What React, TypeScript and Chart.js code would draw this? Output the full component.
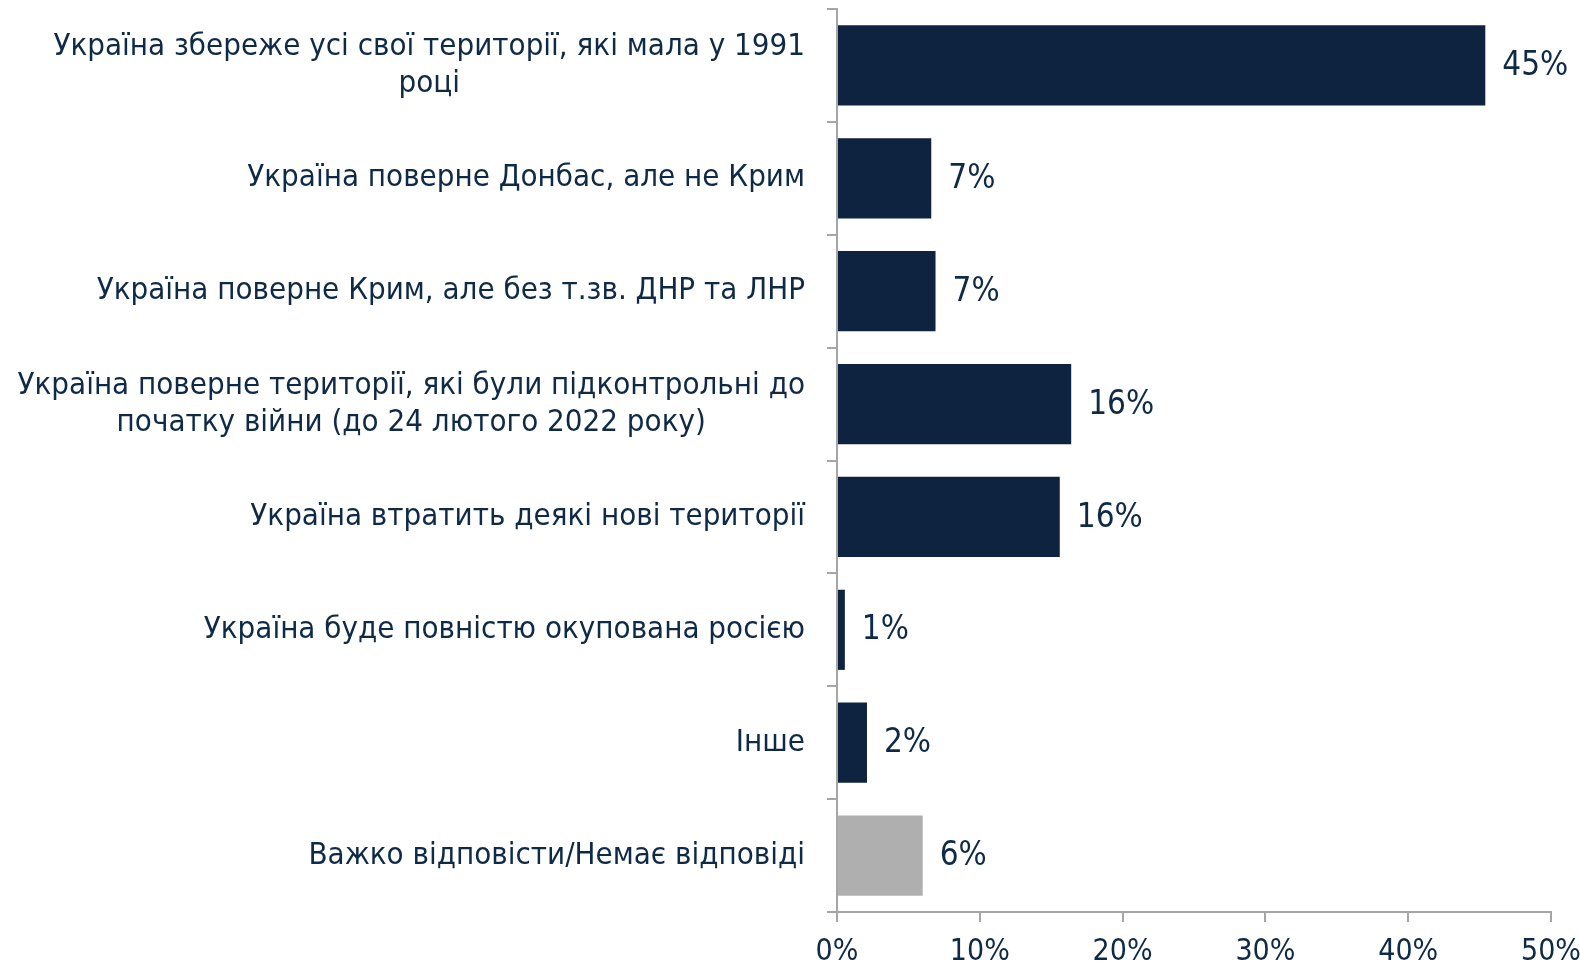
import React, { useEffect, useRef } from "react";
import { Chart, registerables } from "chart.js";

Chart.register(...registerables);

const categories: string[][] = [
  ["Україна збереже усі свої території, які мала у 1991", "році"],
  ["Україна поверне Донбас, але не Крим"],
  ["Україна поверне Крим, але без т.зв. ДНР та ЛНР"],
  ["Україна поверне території, які були підконтрольні до", "початку війни (до 24 лютого 2022 року)"],
  ["Україна втратить деякі нові території"],
  ["Україна буде повністю окупована росією"],
  ["Інше"],
  ["Важко відповісти/Немає відповіді"],
];
const values: number[] = [45.4, 6.6, 6.9, 16.4, 15.6, 0.55, 2.1, 6.0];
const valueLabels: string[] = ["45%", "7%", "7%", "16%", "16%", "1%", "2%", "6%"];
const barColors: string[] = ["#0e2340", "#0e2340", "#0e2340", "#0e2340", "#0e2340", "#0e2340", "#0e2340", "#afafaf"];
const xTicks: number[] = [0, 10, 20, 30, 40, 50];

const FONT = "'DejaVu Sans Condensed', 'DejaVu Sans', sans-serif";
const TEXT = "#0e2a47";
const AXIS = "#a6a6a6";

export default function App() {
  const ref = useRef<HTMLCanvasElement>(null);
  useEffect(() => {
    document.body.style.margin = "0";
    const labelsPlugin = {
      id: "customLabels",
      afterDraw(chart: any) {
        const ctx = chart.ctx;
        const y = chart.scales.y;
        const meta = chart.getDatasetMeta(0);
        ctx.save();
        ctx.fillStyle = TEXT;
        ctx.textBaseline = "middle";
        // category labels
        ctx.font = `31px ${FONT}`;
        const rightX = 805;
        const lh = 37;
        categories.forEach((lines, i) => {
          const cy = y.getPixelForValue(i);
          const w = Math.max(...lines.map((l) => ctx.measureText(l).width));
          const cx = rightX - w / 2;
          ctx.textAlign = "center";
          lines.forEach((l, j) => {
            const ly = cy + (j - (lines.length - 1) / 2) * lh;
            ctx.fillText(l, cx, ly);
          });
        });
        // value labels
        ctx.font = `33px ${FONT}`;
        ctx.textAlign = "left";
        meta.data.forEach((bar: any, i: number) => {
          ctx.fillText(valueLabels[i], bar.x + 17, bar.y + 1);
        });
        ctx.restore();
      },
    };
    const chart = new Chart(ref.current!, {
      type: "bar",
      data: {
        labels: categories.map((c) => c.join(" ")),
        datasets: [
          {
            data: values,
            backgroundColor: barColors,
            barPercentage: 0.71,
            categoryPercentage: 1,
          },
        ],
      },
      options: {
        indexAxis: "y",
        animation: false,
        responsive: false,
        maintainAspectRatio: false,
        layout: { padding: { top: 9, right: 29, left: 0, bottom: 0 } },
        plugins: { legend: { display: false }, tooltip: { enabled: false } },
        scales: {
          x: {
            min: 0,
            max: 50,
            afterBuildTicks(scale: any) {
              scale.ticks = xTicks.map((v) => ({ value: v }));
            },
            afterFit(scale: any) {
              scale.height = 54;
              scale.paddingLeft = 0;
              scale.paddingRight = 0;
            },
            ticks: {
              callback: (v: any) => `${v}%`,
              color: TEXT,
              font: { family: FONT, size: 30 },
              padding: 12,
              maxRotation: 0,
            },
            grid: {
              drawOnChartArea: false,
              drawTicks: true,
              tickLength: 10,
              color: AXIS,
              lineWidth: 2,
            },
            border: { display: true, color: AXIS, width: 2 },
          },
          y: {
            offset: true,
            afterFit(scale: any) {
              scale.width = 837;
            },
            ticks: { display: false },
            grid: {
              offset: true,
              drawOnChartArea: false,
              drawTicks: true,
              tickLength: 10,
              color: AXIS,
              lineWidth: 2,
            },
            border: { display: true, color: AXIS, width: 2 },
          },
        },
      },
      plugins: [labelsPlugin],
    });
    return () => chart.destroy();
  }, []);
  return (
    <div style={{ width: 1580, height: 966 }}>
      <canvas ref={ref} width={1580} height={966} style={{ display: "block" }} />
    </div>
  );
}
